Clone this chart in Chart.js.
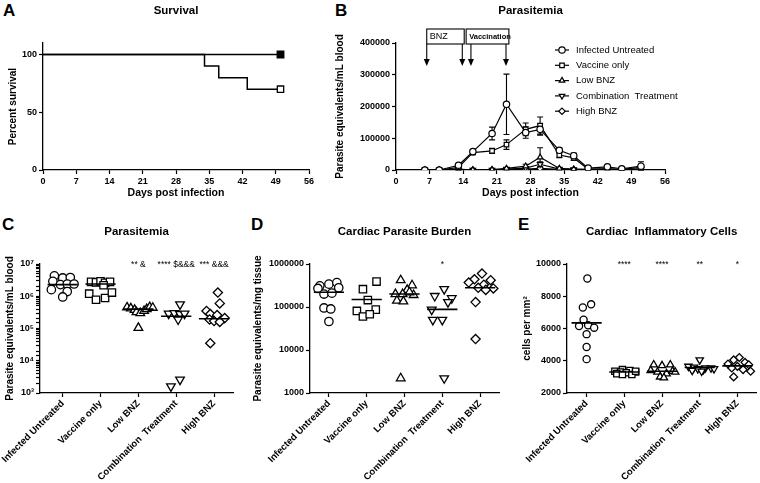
<!DOCTYPE html>
<html>
<head>
<meta charset="utf-8">
<script src="https://cdn.jsdelivr.net/npm/chart.js@4.4.1/dist/chart.umd.min.js"></script>
<style>
  body { margin: 0; background: #fff; }
  #wrap { position: relative; width: 760px; height: 483px; overflow: hidden; font-family: 'Liberation Sans', Arial, sans-serif; }
  canvas { position: absolute; }
  .tag { position: absolute; font-size: 17px; font-weight: bold; line-height: 1; }
</style>
</head>
<body>
<div id="wrap">
  <div class="tag" style="left:3px;top:2px">A</div>
  <div class="tag" style="left:335px;top:2px">B</div>
  <div class="tag" style="left:2px;top:216px">C</div>
  <div class="tag" style="left:251px;top:216px">D</div>
  <div class="tag" style="left:518px;top:216px">E</div>
  <canvas id="survival" width="330" height="215" style="left:0;top:0"></canvas>
  <canvas id="parasitemiaTime" width="420" height="215" style="left:270px;top:0"></canvas>
  <canvas id="parasitemiaDots" width="250" height="268" style="left:0;top:215px"></canvas>
  <canvas id="cardiacBurden" width="260" height="268" style="left:250px;top:215px"></canvas>
  <canvas id="cardiacCells" width="262" height="268" style="left:500px;top:215px"></canvas>
</div>
<script>
// ---- A: survival ----
var survDaysAll = [0, 50];
var survAll = [100, 100];
var survDaysPart = [0, 34, 37, 43, 50];
var survPart = [100, 90, 80, 70, 70];

// ---- B: parasitemia over time ----
var bDays = [6, 9, 13, 16, 20, 23, 27, 30, 34, 37, 40, 44, 47, 51];
var bUntreated = [0, 0, 15000, 58000, 115000, 207000, 118000, 128000, 62000, 45000, 6000, 10000, 4000, 12000];
var bUntreatedErr = [0, 0, 5000, 5000, 20000, 95000, 18000, 18000, 8000, 8000, 3000, 4000, 2000, 14000];
var bVaccine = [0, 0, 8000, 55000, 60000, 80000, 128000, 140000, 47000, 38000, 3000, 3000, 2000, 8000];
var bVaccineErr = [0, 0, 3000, 5000, 8000, 15000, 20000, 27000, 8000, 8000, 2000, 2000, 1000, 5000];
var bLowBnz = [0, 0, 3000, 0, 1000, 5000, 12000, 40000, 5000, 3000, 2000, 4000, 1000, 3000];
var bLowBnzErr = [0, 0, 2000, 0, 1000, 3000, 6000, 30000, 3000, 2000, 1000, 2000, 1000, 2000];
var bCombo = [0, 0, 2000, 0, 0, 3000, 6000, 18000, 3000, 2000, 1000, 2000, 1000, 2000];
var bComboErr = [0, 0, 1000, 0, 0, 2000, 4000, 8000, 2000, 1000, 1000, 1000, 1000, 1000];
var bHighBnz = [0, 0, 2000, 0, 0, 2000, 3000, 5000, 2000, 1000, 1000, 1000, 1000, 1000];
var bHighBnzErr = [0, 0, 1000, 0, 0, 1000, 1000, 2000, 1000, 1000, 0, 0, 0, 0];
var bnzBox = [6.4, 14.2], bnzArrows = [6.4, 13.8];
var vacBox = [14.6, 23.5], vacArrows = [15.6, 22.9];

// ---- C, D, E: dot plots ----
var groups = ['Infected Untreated', 'Vaccine only', 'Low BNZ', 'Combination  Treatment', 'High BNZ'];

var cValues = [
  [4.3e6, 3.7e6, 3.8e6, 2.9e6, 2.3e6, 2.4e6, 2.4e6, 1.6e6, 1.4e6, 9.5e5],
  [2.8e6, 2.7e6, 2.9e6, 2.6e6, 2.8e6, 2.2e6, 1.2e6, 7.8e5, 8.8e5, 1.3e6],
  [4.5e5, 4.2e5, 3.8e5, 3.2e5, 3.0e5, 3.5e5, 4.0e5, 4.6e5, 4.4e5, 1.05e5],
  [5.6e5, 2.9e5, 3.0e5, 2.8e5, 2.9e5, 1.9e5, 2.6e3, 1.6e3],
  [1.3e6, 6.0e5, 3.5e5, 2.8e5, 2.6e5, 2.1e5, 1.9e5, 1.7e5, 1.6e5, 3.5e4]
];
var cJitter = [
  [-0.22, 0, 0.2, -0.26, -0.06, 0.12, 0.3, -0.3, 0.12, 0],
  [-0.25, -0.12, 0, 0.12, 0.25, 0.08, -0.3, -0.12, 0.12, 0.3],
  [-0.3, -0.2, -0.1, -0.05, 0.05, 0.15, 0.22, 0.3, 0.38, 0],
  [0.1, -0.2, -0.05, 0.1, 0.22, 0.05, 0.1, -0.14],
  [0.1, 0.15, -0.2, -0.1, 0.08, 0.28, -0.12, 0, 0.15, -0.1]
];
var cMedians = [2.3e6, 2.4e6, 4.0e5, 2.4e5, 2.0e5];
var cMarks = ['', '', '** &', '**** $&&&', '*** &&&'];

var dValues = [
  [3.1e5, 3.4e5, 3.7e5, 2.7e5, 2.8e5, 2.0e5, 2.1e5, 9.5e4, 9.0e4, 4.6e4],
  [3.9e5, 2.6e5, 1.45e5, 8.1e4, 8.7e4, 6.0e4, 6.8e4],
  [4.2e5, 3.2e5, 2.5e5, 2.0e5, 2.0e5, 1.9e5, 1.4e5, 1.35e5, 2.2e5, 2.2e3],
  [2.6e5, 1.8e5, 1.6e5, 1.3e5, 8.7e4, 5.0e4, 5.0e4, 2.2e3],
  [6.0e5, 4.4e5, 4.2e5, 3.7e5, 3.3e5, 2.8e5, 2.7e5, 2.5e5, 1.3e5, 1.8e4]
];
var dJitter = [
  [-0.24, 0, 0.21, -0.29, 0.26, -0.13, 0.08, -0.13, 0.05, 0],
  [0.26, -0.1, 0.03, -0.26, 0.24, -0.1, 0.08],
  [-0.1, 0.2, 0.07, -0.24, -0.05, 0.24, -0.2, -0.03, 0.13, -0.1],
  [0.05, -0.2, 0.25, 0.15, -0.28, -0.25, 0, 0.05],
  [0.05, -0.15, 0.28, -0.3, 0.1, -0.05, 0.35, 0.15, -0.12, -0.12]
];
var dMedians = [2.2e5, 1.5e5, 2.0e5, 8.8e4, 2.8e5];
var dMarks = ['', '', '', '*', ''];

var eValues = [
  [9100, 7300, 7500, 6550, 6150, 6200, 6050, 5650, 4850, 4100],
  [3450, 3400, 3350, 3300, 3300, 3250, 3200, 3150, 3150, 3350],
  [3750, 3700, 3750, 3400, 3350, 3300, 3200, 3000, 2950, 3300],
  [4050, 3650, 3600, 3550, 3550, 3500, 3450, 3400, 3350, 3500],
  [4200, 4050, 3900, 3800, 3750, 3650, 3550, 3450, 3350, 3000]
];
var eJitter = [
  [0.02, -0.1, 0.12, -0.08, -0.2, 0.04, 0.2, 0, 0, 0],
  [-0.05, 0.15, -0.25, 0.3, -0.1, 0.05, -0.2, 0.2, -0.05, 0.3],
  [-0.22, 0, 0.22, -0.3, 0.28, -0.12, 0.12, -0.05, 0.05, 0.35],
  [0, -0.3, -0.15, 0.15, 0.3, -0.05, 0.1, -0.2, 0.05, 0.38],
  [0.05, -0.1, 0.2, -0.25, 0.3, 0, -0.15, 0.15, 0.35, -0.1]
];
var eMedians = [6350, 3300, 3350, 3580, 3680];
var eMarks = ['', '****', '****', '**', '*'];

Chart.defaults.font.family = "'Liberation Sans', Arial, sans-serif";
Chart.defaults.color = '#000';
Chart.defaults.animation = false;

var BOLD9 = { size: 9, weight: 'bold' };

function fit(w, h) {
  return function (s) {
    if (w != null) s.width = w;
    if (h != null) s.height = h;
    s.paddingLeft = 0; s.paddingRight = 0; s.paddingTop = 0; s.paddingBottom = 0;
  };
}
function grid() {
  return { drawOnChartArea: false, color: '#000', tickLength: 4, tickWidth: 1.2 };
}
var border = { color: '#000', width: 1.3 };
function plainNum(v) { return String(v); }
function pts(xs, ys) { return xs.map(function (x, i) { return { x: x, y: ys[i] }; }); }

// A
new Chart(document.getElementById('survival'), {
  type: 'scatter',
  data: {
    datasets: [
      { data: pts(survDaysAll, survAll), showLine: true, stepped: true, borderColor: '#000', borderWidth: 1.5,
        pointStyle: 'rect', pointRadius: [0, 4.5], pointBackgroundColor: '#000', pointBorderColor: '#000' },
      { data: pts(survDaysPart, survPart), showLine: true, stepped: true, borderColor: '#000', borderWidth: 1.5,
        pointStyle: 'rect', pointRadius: [0, 0, 0, 0, 4.5], pointBackgroundColor: '#fff', pointBorderColor: '#000', pointBorderWidth: 1.3 }
    ]
  },
  options: {
    responsive: false, devicePixelRatio: 1,
    layout: { padding: { left: 0, right: 21, top: 0, bottom: 0 } },
    plugins: {
      legend: { display: false }, tooltip: { enabled: false },
      title: { display: true, text: 'Survival', fullSize: false, color: '#000', font: { size: 11.5, weight: 'bold' }, padding: { top: 4, bottom: 25.2 } }
    },
    scales: {
      x: { type: 'linear', min: 0, max: 56, grid: grid(), border: border, afterFit: fit(null, 45),
           ticks: { stepSize: 7, font: BOLD9, padding: 2 },
           title: { display: true, text: 'Days post infection', font: { size: 10.5, weight: 'bold' }, padding: { top: 0, bottom: 16 } } },
      y: { min: 0, max: 110, grid: grid(), border: border, afterFit: fit(43, null),
           afterBuildTicks: function (s) { s.ticks = [0, 50, 100].map(function (v) { return { value: v }; }); },
           ticks: { font: BOLD9, padding: 2 },
           title: { display: true, text: 'Percent survival', font: { size: 10, weight: 'bold' }, padding: { top: 7, bottom: 0 } } }
    }
  }
});

// B
var bSeries = [
  ['Infected Untreated', bUntreated, bUntreatedErr, 'circle', 0],
  ['Vaccine only', bVaccine, bVaccineErr, 'rect', 0],
  ['Low BNZ', bLowBnz, bLowBnzErr, 'triangle', 0],
  ['Combination  Treatment', bCombo, bComboErr, 'triangle', 180],
  ['High BNZ', bHighBnz, bHighBnzErr, 'rectRot', 0]
];
var errorBars = {
  id: 'errorBars',
  beforeDatasetsDraw: function (chart) {
    var ctx = chart.ctx, ys = chart.scales.y;
    ctx.save();
    ctx.strokeStyle = '#000'; ctx.lineWidth = 1.1;
    chart.data.datasets.forEach(function (ds, i) {
      if (!ds.errors) return;
      chart.getDatasetMeta(i).data.forEach(function (p, j) {
        var e = ds.errors[j], v = ds.data[j].y;
        if (!e) return;
        var y1 = ys.getPixelForValue(v + e), y2 = ys.getPixelForValue(Math.max(v - e, 0));
        ctx.beginPath();
        ctx.moveTo(p.x, y1); ctx.lineTo(p.x, y2);
        ctx.moveTo(p.x - 3, y1); ctx.lineTo(p.x + 3, y1);
        ctx.moveTo(p.x - 3, y2); ctx.lineTo(p.x + 3, y2);
        ctx.stroke();
      });
    });
    ctx.restore();
  },
  afterDraw: function (chart) {
    var ctx = chart.ctx, xs = chart.scales.x, a = chart.chartArea;
    ctx.save();
    ctx.strokeStyle = '#000'; ctx.fillStyle = '#000'; ctx.lineWidth = 1.1;
    function arrow(x) {
      ctx.beginPath(); ctx.moveTo(x, a.top + 1); ctx.lineTo(x, a.top + 17); ctx.stroke();
      ctx.beginPath(); ctx.moveTo(x - 3, a.top + 16); ctx.lineTo(x + 3, a.top + 16); ctx.lineTo(x, a.top + 23); ctx.closePath(); ctx.fill();
    }
    [[bnzBox, bnzArrows, 'BNZ', '9px'], [vacBox, vacArrows, 'Vaccination', 'bold 7.5px']].forEach(function (t) {
      var l = xs.getPixelForValue(t[0][0]), r = xs.getPixelForValue(t[0][1]);
      ctx.strokeRect(l, a.top - 14, r - l, 15);
      ctx.font = t[3] + " 'Liberation Sans', Arial, sans-serif";
      ctx.textBaseline = 'middle'; ctx.textAlign = 'left';
      ctx.fillText(t[2], l + 3, a.top - 6.5);
      t[1].forEach(function (d) { arrow(xs.getPixelForValue(d)); });
    });
    // legend
    var lx = a.right - 110, ly = a.top + 7;
    ctx.font = "9.5px 'Liberation Sans', Arial, sans-serif";
    chart.data.datasets.forEach(function (ds, i) {
      var y = ly + i * 15.3;
      ctx.strokeStyle = '#000'; ctx.lineWidth = 1.2;
      ctx.beginPath(); ctx.moveTo(lx, y); ctx.lineTo(lx + 14, y); ctx.stroke();
      ctx.fillStyle = '#fff';
      Chart.helpers.drawPoint(ctx, { pointStyle: ds.pointStyle, rotation: ds.pointRotation, radius: 3.2, borderWidth: 1.2 }, lx + 7, y);
      ctx.fillStyle = '#000'; ctx.textBaseline = 'middle'; ctx.textAlign = 'left';
      ctx.fillText(ds.label, lx + 21, y);
    });
    ctx.restore();
  }
};
new Chart(document.getElementById('parasitemiaTime'), {
  type: 'scatter',
  data: {
    datasets: bSeries.map(function (s) {
      return { label: s[0], data: pts(bDays, s[1]), errors: s[2], showLine: true, borderColor: '#000', borderWidth: 1.2,
               pointStyle: s[3], pointRotation: s[4], pointRadius: 3.2, pointBorderWidth: 1.2,
               pointBorderColor: '#000', pointBackgroundColor: '#fff' };
    })
  },
  options: {
    responsive: false, devicePixelRatio: 1,
    layout: { padding: { left: 0, right: 25, top: 0, bottom: 0 } },
    plugins: {
      legend: { display: false }, tooltip: { enabled: false },
      title: { display: true, text: 'Parasitemia', fullSize: false, color: '#000', font: { size: 11.5, weight: 'bold' }, padding: { top: 4, bottom: 25.2 } }
    },
    scales: {
      x: { type: 'linear', min: 0, max: 56, grid: grid(), border: border, afterFit: fit(null, 45),
           ticks: { stepSize: 7, font: BOLD9, padding: 2 },
           title: { display: true, text: 'Days post infection', font: { size: 10.5, weight: 'bold' }, padding: { top: 0, bottom: 16 } } },
      y: { min: 0, max: 400000, grid: grid(), border: border, afterFit: fit(126, null),
           ticks: { stepSize: 100000, font: BOLD9, padding: 2, callback: plainNum },
           title: { display: true, text: 'Parasite equivalents/mL blood', font: { size: 10, weight: 'bold' }, padding: { top: 64, bottom: 0 } } }
    }
  },
  plugins: [errorBars]
});

// C, D, E
var SUP = '⁰¹²³⁴⁵⁶⁷⁸⁹';
function isPow10(v) { var l = Math.log10(v); return Math.abs(l - Math.round(l)) < 1e-9; }

function dotPlot(id, o) {
  var styles = [['circle', 0, 4.2], ['rect', 0, 5.2], ['triangle', 0, 5], ['triangle', 180, 5], ['rectRot', 0, 4.6]];
  var sets = groups.map(function (name, g) {
    return {
      label: name,
      data: o.values[g].map(function (v, k) { return { x: g + o.jitter[g][k], y: v }; }),
      pointStyle: styles[g][0], pointRotation: styles[g][1], pointRadius: styles[g][2] * o.size,
      pointBorderColor: '#000', pointBackgroundColor: '#fff', pointBorderWidth: 1.3
    };
  });
  var med = [];
  o.medians.forEach(function (m, g) { med.push({ x: g - 0.4, y: m }, { x: g + 0.4, y: m }, { x: g + 0.4, y: null }); });
  sets.unshift({ type: 'line', data: med, borderColor: '#000', borderWidth: 1.6, pointRadius: 0, spanGaps: false });

  var marks = {
    id: 'marks',
    afterDraw: function (chart) {
      var ctx = chart.ctx, xs = chart.scales.x;
      ctx.save();
      ctx.font = "8.5px 'Liberation Sans', Arial, sans-serif";
      ctx.fillStyle = '#000'; ctx.textAlign = 'center'; ctx.textBaseline = 'middle';
      o.marks.forEach(function (t, g) { if (t) ctx.fillText(t, xs.getPixelForValue(g) + o.markShift, chart.chartArea.top + 1); });
      ctx.restore();
    }
  };

  new Chart(document.getElementById(id), {
    type: 'scatter',
    data: { datasets: sets },
    options: {
      responsive: false, devicePixelRatio: 1,
      layout: { padding: { left: 0, right: o.padRight, top: 0, bottom: 0 } },
      plugins: {
        legend: { display: false }, tooltip: { enabled: false },
        title: { display: true, text: o.title, fullSize: false, color: '#000', font: { size: 11.5, weight: 'bold' }, padding: { top: 10.1, bottom: 25.1 } }
      },
      scales: {
        x: { type: 'linear', min: o.xMin, max: 4.5, grid: grid(), border: border, afterFit: fit(null, 90),
             afterBuildTicks: function (s) { s.ticks = groups.map(function (n, i) { return { value: i }; }); },
             ticks: { autoSkip: false, minRotation: 45, maxRotation: 45, padding: 1, font: { size: 9.5, weight: 'bold' },
                      callback: function (v, i) { return groups[i]; } } },
        y: Object.assign({ grid: grid(), border: border, afterFit: fit(o.yWidth, null),
             title: { display: true, text: o.yTitle, font: { size: 10, weight: 'bold' }, padding: { top: o.yTitlePad, bottom: 0 } } }, o.y)
      }
    },
    plugins: [marks]
  });
}

dotPlot('parasitemiaDots', {
  title: 'Parasitemia', values: cValues, jitter: cJitter, medians: cMedians, marks: cMarks, markShift: 0,
  size: 1, xMin: -0.6, padRight: 17, yWidth: 40, yTitle: 'Parasite equivalents/mL blood', yTitlePad: 4,
  y: { type: 'logarithmic', min: 1000, max: 1e7,
       ticks: { autoSkip: false, font: BOLD9, padding: 2,
                callback: function (v) { return isPow10(v) ? '10' + SUP[Math.round(Math.log10(v))] : ''; } } }
});

dotPlot('cardiacBurden', {
  title: 'Cardiac Parasite Burden', values: dValues, jitter: dJitter, medians: dMedians, marks: dMarks, markShift: 0,
  size: 1, xMin: -0.5, padRight: 11, yWidth: 60, yTitle: 'Parasite equivalents/mg tissue', yTitlePad: 2,
  y: { type: 'logarithmic', min: 1000, max: 1e6,
       afterBuildTicks: function (s) { s.ticks = [1e3, 1e4, 1e5, 1e6].map(function (v) { return { value: v }; }); },
       ticks: { autoSkip: false, font: BOLD9, padding: 2, callback: function (v) { return String(Math.round(v)); } } }
});

dotPlot('cardiacCells', {
  title: 'Cardiac  Inflammatory Cells', values: eValues, jitter: eJitter, medians: eMedians, marks: eMarks, markShift: 0,
  size: 0.85, xMin: -0.52, padRight: 2, yWidth: 67, yTitle: 'cells per mm²', yTitlePad: 21,
  y: { type: 'linear', min: 2000, max: 10000,
       ticks: { stepSize: 2000, font: BOLD9, padding: 2, callback: plainNum } }
});
</script>
</body>
</html>
